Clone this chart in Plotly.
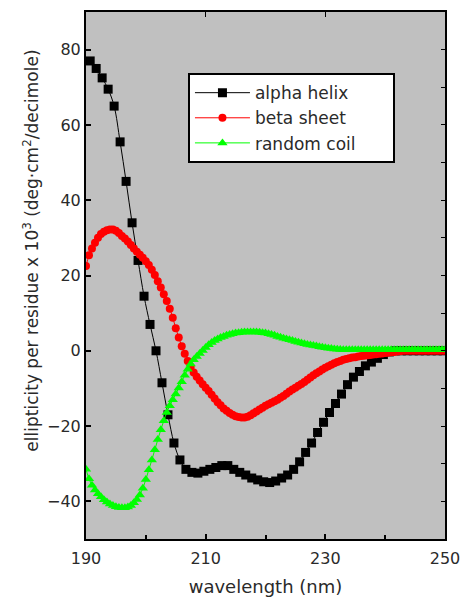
import plotly.graph_objects as go

# ---- data ----
# alpha helix: one point per nm
alpha_x = [round(190.7 + k, 1) for k in range(60)]
alpha_y = [77, 75, 72.5, 69.5, 65, 55.5, 45, 34, 24, 14.5,
           7, 0, -8.5, -17, -24.5, -29, -31.5, -32.3, -32.5, -32,
           -31.5, -31, -30.5, -30.5, -31.5, -32.3, -33, -33.8, -34.3, -34.8,
           -35, -34.6, -33.8, -33, -31.5, -29.5, -27, -24.5, -21.7, -19,
           -16.4, -14, -11.5, -9, -7, -5.5, -4, -3, -2, -1,
           -0.3, 0, 0, 0, 0, 0, 0, 0, 0, 0]

# beta sheet and random coil: one point per 0.5 nm, 190 .. 250
half_x = [190 + 0.5 * k for k in range(121)]
beta_y = [22.5, 25.4, 27.2, 28.7, 30, 31, 31.6, 32, 32.2, 32.2,
          31.9, 31.3, 30.5, 29.8, 29, 28.1, 27.2, 26.3, 25.5, 24.7,
          23.8, 22.8, 21.5, 20.1, 18.5, 16.8, 15, 13.2, 11.2, 8.8,
          6, 3.5, 1.2, -0.8, -2.7, -4.3, -5.8, -6.9, -7.9, -8.9,
          -9.8, -10.7, -11.7, -12.7, -13.7, -14.5, -15.3, -15.9, -16.5, -17,
          -17.4, -17.6, -17.7, -17.7, -17.5, -17.1, -16.6, -16.1, -15.6, -15.1,
          -14.6, -14.2, -13.8, -13.4, -13, -12.5, -12, -11.4, -10.8, -10.3,
          -9.8, -9.3, -8.8, -8.3, -7.7, -7.1, -6.5, -6, -5.5, -5,
          -4.5, -4.1, -3.7, -3.3, -3, -2.7, -2.4, -2.2, -2, -1.8,
          -1.7, -1.5, -1.4, -1.3, -1.2, -1.1, -1, -0.9, -0.8, -0.7,
          -0.6, -0.5, -0.4, -0.3, -0.2, -0.1, 0, 0, 0, 0,
          0, 0, 0, 0, 0, 0, 0, 0, 0, 0, 0]
random_y = [-31.5, -34, -35.7, -37, -38, -38.8, -39.6, -40.2, -40.7, -41.1,
            -41.4, -41.6, -41.7, -41.7, -41.5, -41.1, -40.4, -39.5, -38.3, -36.5,
            -34.2, -31.6, -29, -26.3, -23.6, -21, -18.6, -16.4, -14.6, -13,
            -11.5, -9.9, -8.2, -6.5, -4.9, -3.5, -2.4, -1.5, -0.7, 0.1,
            0.9, 1.6, 2.2, 2.7, 3.1, 3.5, 3.8, 4.1, 4.3, 4.5,
            4.7, 4.8, 4.9, 5, 5, 5, 5, 5, 4.9, 4.8,
            4.7, 4.5, 4.3, 4.1, 3.8, 3.6, 3.3, 3.1, 2.9, 2.7,
            2.5, 2.3, 2.1, 1.9, 1.7, 1.55, 1.4, 1.25, 1.1, 0.95,
            0.8, 0.7, 0.6, 0.5, 0.4, 0.35, 0.3, 0.3, 0.3, 0.3,
            0.3, 0.3, 0.3, 0.3, 0.3, 0.3, 0.3, 0.3, 0.3, 0.3,
            0.3, 0.3, 0.3, 0.3, 0.3, 0.3, 0.3, 0.3, 0.3, 0.3,
            0.3, 0.3, 0.3, 0.3, 0.3, 0.3, 0.3, 0.3, 0.3, 0.3, 0.3]

series_names = ["alpha helix", "beta sheet", "random coil"]
x_ticks = [190, 210, 230, 250]
y_ticks = [-40, -20, 0, 20, 40, 60, 80]

FONT = "DejaVu Sans"
TXT = "#2a2a2a"
PAD = "\u00a0" * 6

fig = go.Figure()
fig.add_trace(go.Scatter(x=alpha_x, y=alpha_y, name=series_names[0] + PAD, mode="lines+markers",
                         line=dict(color="black", width=1, shape="spline"),
                         marker=dict(symbol="square", size=9, color="black"),
                         legendgroup="a"))
fig.add_trace(go.Scatter(x=half_x, y=beta_y, name=series_names[1] + PAD, mode="lines+markers",
                         line=dict(color="#ff0000", width=1, shape="spline"),
                         marker=dict(symbol="circle", size=8, color="#ff0000"),
                         legendgroup="b"))
fig.add_trace(go.Scatter(x=half_x, y=random_y, name=series_names[2] + PAD, mode="lines+markers",
                         line=dict(color="#00ff00", width=1, shape="spline"),
                         marker=dict(symbol="triangle-up", size=9, color="#00ff00"),
                         legendgroup="c"))

fig.update_layout(
    width=468, height=597,
    margin=dict(l=86, r=23, t=12, b=58),
    paper_bgcolor="white", plot_bgcolor="#c0c0c0",
    font=dict(family=FONT, size=16, color=TXT),
    showlegend=True,
    legend=dict(x=0.284, y=0.884, xanchor="left", yanchor="top",
                bgcolor="white", bordercolor="black", borderwidth=2,
                font=dict(family=FONT, size=17, color=TXT),
                itemwidth=55, tracegroupgap=0),
    xaxis=dict(range=[190, 250], tickvals=x_ticks, ticks="inside", ticklen=5,
               tickcolor="black", tickwidth=1.5, ticklabelstandoff=4,
               minor=dict(dtick=10, tick0=190, ticks="inside", ticklen=4, tickcolor="black"),
               showline=True, linecolor="black", linewidth=2, mirror=True,
               showgrid=False, zeroline=False, automargin=False,
               title=dict(text="wavelength (nm)", font=dict(size=18), standoff=14)),
    yaxis=dict(range=[-50, 90], tickvals=y_ticks, ticks="inside", ticklen=5,
               tickcolor="black", tickwidth=1.5, automargin=False,
               showline=True, linecolor="black", linewidth=2, mirror=True,
               showgrid=False, zeroline=False),
    xaxis2=dict(overlaying="x", matches="x", side="top", range=[190, 250],
                tickvals=x_ticks, ticks="inside", ticklen=5, tickcolor="black",
                showticklabels=False, showgrid=False, zeroline=False, showline=False,
                automargin=False),
    yaxis2=dict(overlaying="y", matches="y", side="right", range=[-50, 90],
                dtick=10, tick0=0, ticks="inside", ticklen=4, tickcolor="black",
                showticklabels=False, showgrid=False, zeroline=False, showline=False,
                automargin=False),
)
# invisible trace so the mirrored tick axes are drawn
fig.add_trace(go.Scatter(x=[190], y=[0], xaxis="x2", yaxis="y2", mode="markers",
                         marker=dict(opacity=0), showlegend=False, hoverinfo="skip"))

fig.add_annotation(text="ellipticity per residue x 10<sup>3</sup> (deg·cm<sup>2</sup>/decimole)",
                   xref="paper", yref="paper", x=-0.152, y=0.548, textangle=-90,
                   showarrow=False, font=dict(family=FONT, size=17, color=TXT),
                   xanchor="center", yanchor="middle")

fig.write_html("out.html")
